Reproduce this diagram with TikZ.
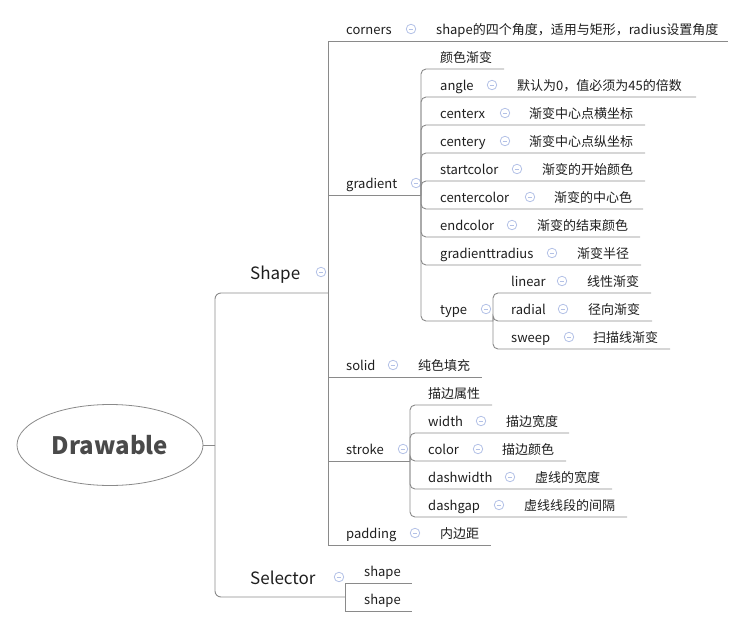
\documentclass[tikz,border=0pt]{standalone}
\usepackage{fontspec}
\setmainfont{Noto Sans CJK SC}
\usetikzlibrary{shapes.geometric}
\definecolor{lgray}{HTML}{8A8A8A}
\definecolor{txt}{HTML}{1E1E1E}
\definecolor{mblue}{HTML}{B3C1E6}
\definecolor{roottxt}{HTML}{4A4A4A}
\tikzset{
  lbl/.style={anchor=west,inner sep=0pt,text=txt,font=\fontsize{13}{13}\selectfont,text height=9.9pt,text depth=0pt},
  big/.style={anchor=west,inner sep=0pt,text=txt,font=\fontsize{17}{17}\selectfont,text height=12.9pt,text depth=0pt},
  mn/.style={circle,draw=mblue,line width=0.8pt,minimum size=9.5pt,inner sep=0pt,
    path picture={\draw[mblue,line width=0.8pt] ([xshift=-2.4pt]path picture bounding box.center) -- ([xshift=2.4pt]path picture bounding box.center);}},
  conn/.style={draw=lgray,line width=0.9pt},
  rconn/.style={conn,rounded corners=5pt},
  rootnode/.style={ellipse,draw=lgray,line width=0.8pt,minimum width=186pt,minimum height=81pt,inner sep=0pt,
    text=roottxt,font=\fontsize{24}{24}\selectfont\bfseries}
}
\newcommand\tpc[4]{\node[lbl] (#1) at (#2,#3-11.2) {#4};}
\newcommand\mns[3]{\node[mn] (#1) at (#2,#3-12) {};}
\begin{document}
\begin{tikzpicture}[x=1pt,y=-1pt]
\useasboundingbox (0,0) rectangle (745,627);
% root
\node[rootnode] (root) at (110,445) {Drawable};
\coordinate (rJ) at (215,445);
\coordinate (shapeE) at (328,293);
\coordinate (selE) at (345,597);
\draw[conn] (root.east) -- (rJ);
\draw[conn,rounded corners=6pt] (rJ) |- (shapeE);
\draw[conn,rounded corners=6pt] (rJ) |- (selE);
\node[big] (shape) at (250,272.8) {Shape};
\node[mn] (shapem) at (321,272) {};
\node[big] (sel) at (250,577.8) {Selector};
\node[mn] (selm) at (339,577) {};

% Shape children
\coordinate (cornersE) at (728,41);
\coordinate (gradE) at (421,195);
\coordinate (solidE) at (482,377);
\coordinate (strokeE) at (410,461);
\coordinate (padE) at (491,545);
\foreach \e in {cornersE,gradE,solidE,strokeE,padE}{\draw[conn] (shapeE) |- (\e);}
\tpc{corners}{346}{41}{corners} \mns{cornersm}{411}{41} \tpc{cornersd}{436}{41}{shape的四个角度，适用与矩形，radius设置角度}
\tpc{grad}{346}{195}{gradient} \mns{gradm}{416}{195}
\tpc{solid}{346}{377}{solid} \mns{solidm}{393}{377} \tpc{solidd}{418}{377}{纯色填充}
\tpc{stroke}{346}{461}{stroke} \mns{strokem}{403}{461}
\tpc{pad}{346}{545}{padding} \mns{padm}{415}{545} \tpc{padd}{440}{545}{内边距}

% gradient children
\coordinate (g0E) at (504,69);
\coordinate (angleE) at (696,97);
\coordinate (cxE) at (645,125);
\coordinate (cyE) at (645,153);
\coordinate (scE) at (645,181);
\coordinate (ccE) at (643,209);
\coordinate (ecE) at (640,237);
\coordinate (grE) at (641,265);
\coordinate (typeE) at (493,321);
\foreach \e in {g0E,angleE,cxE,cyE,scE,ccE,ecE,grE,typeE}{\draw[rconn] (gradE) |- (\e);}
\tpc{g0}{440}{69}{颜色渐变}
\tpc{angle}{440}{97}{angle} \mns{anglem}{492}{97} \tpc{angled}{517}{97}{默认为0，值必须为45的倍数}
\tpc{cx}{440}{125}{centerx} \mns{cxm}{505}{125} \tpc{cxd}{529}{125}{渐变中心点横坐标}
\tpc{cy}{440}{153}{centery} \mns{cym}{505}{153} \tpc{cyd}{529}{153}{渐变中心点纵坐标}
\tpc{sc}{440}{181}{startcolor} \mns{scm}{517}{181} \tpc{scd}{542}{181}{渐变的开始颜色}
\tpc{cc}{440}{209}{centercolor} \mns{ccm}{530}{209} \tpc{ccd}{554}{209}{渐变的中心色}
\tpc{ec}{440}{237}{endcolor} \mns{ecm}{512}{237} \tpc{ecd}{537}{237}{渐变的结束颜色}
\tpc{gr}{440}{265}{gradienttradius} \mns{grm}{552}{265} \tpc{grd}{577}{265}{渐变半径}
\tpc{type}{440}{321}{type} \mns{typem}{486}{321}

% type children
\coordinate (linE) at (651,293);
\coordinate (radE) at (652,321);
\coordinate (swE) at (670,349);
\foreach \e in {linE,radE,swE}{\draw[rconn] (typeE) |- (\e);}
\tpc{lin}{511}{293}{linear} \mns{linm}{562}{293} \tpc{lind}{587}{293}{线性渐变}
\tpc{rad}{511}{321}{radial} \mns{radm}{563}{321} \tpc{radd}{588}{321}{径向渐变}
\tpc{sw}{511}{349}{sweep} \mns{swm}{569}{349} \tpc{swd}{593}{349}{扫描线渐变}

% stroke children
\coordinate (s0E) at (492,405);
\coordinate (wE) at (569,433);
\coordinate (colE) at (566,461);
\coordinate (dwE) at (612,489);
\coordinate (dgE) at (627,517);
\foreach \e in {s0E,wE,colE,dwE,dgE}{\draw[rconn] (strokeE) |- (\e);}
\tpc{s0}{428}{405}{描边属性}
\tpc{w}{428}{433}{width} \mns{wm}{481}{433} \tpc{wd}{506}{433}{描边宽度}
\tpc{col}{428}{461}{color} \mns{colm}{478}{461} \tpc{cold}{502}{461}{描边颜色}
\tpc{dw}{428}{489}{dashwidth} \mns{dwm}{510}{489} \tpc{dwd}{535}{489}{虚线的宽度}
\tpc{dg}{428}{517}{dashgap} \mns{dgm}{499}{517} \tpc{dgd}{524}{517}{虚线线段的间隔}

% selector children
\coordinate (sh1E) at (412,583);
\coordinate (sh2E) at (412,611);
\foreach \e in {sh1E,sh2E}{\draw[conn] (selE) |- (\e);}
\tpc{sh1}{364}{583}{shape}
\tpc{sh2}{364}{611}{shape}
\end{tikzpicture}
\end{document}
